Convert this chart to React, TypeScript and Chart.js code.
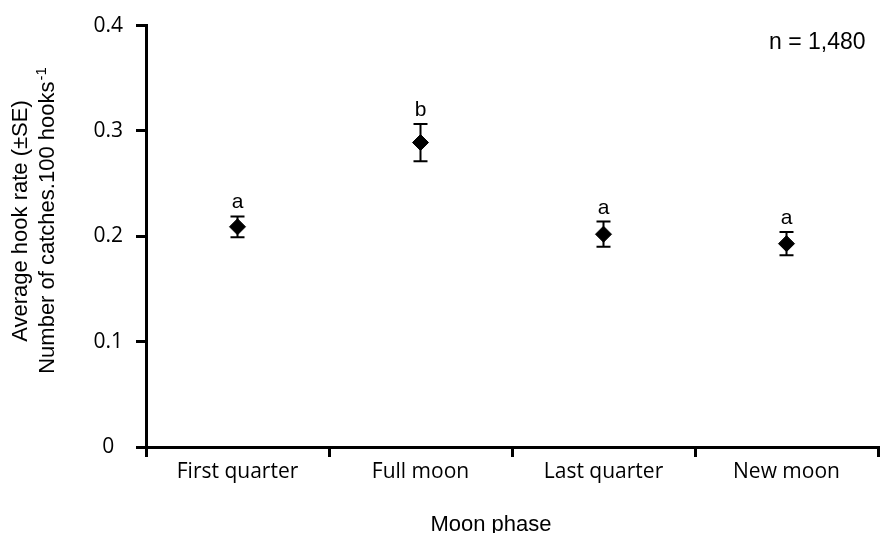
import { useEffect, useRef } from "react";
import { Chart, registerables } from "chart.js";

Chart.register(...registerables);

// ---- data ----
const categories = ["First quarter", "Full moon", "Last quarter", "New moon"];
const means = [0.209, 0.289, 0.202, 0.193];
const standardErrors = [0.0098, 0.0177, 0.012, 0.011];
const groupLetters = ["a", "b", "a", "a"];
const yTicks = [0, 0.1, 0.2, 0.3, 0.4];
const yTitleLines = ["Average hook rate (\u00b1SE)", "Number of catches.100 hooks"];
const yTitleSuperscript = "-1";
const xTitle = "Moon phase";
const sampleNote = "n = 1,480";

const SANS = "'Liberation Sans', Arial, sans-serif";
const TICK_FONT = "'Open Sans', sans-serif";

const annotationsPlugin = {
  id: "annotations",
  beforeDatasetsDraw(chart: any) {
    const { ctx, scales } = chart;
    const xs = scales.x;
    const ys = scales.y;
    ctx.save();
    ctx.strokeStyle = "#000";
    ctx.lineWidth = 2;
    means.forEach((m, i) => {
      const x = xs.getPixelForValue(i);
      const yt = ys.getPixelForValue(m + standardErrors[i]);
      const yb = ys.getPixelForValue(m - standardErrors[i]);
      ctx.beginPath();
      ctx.moveTo(x, yt);
      ctx.lineTo(x, yb);
      ctx.moveTo(x - 7, yt);
      ctx.lineTo(x + 7, yt);
      ctx.moveTo(x - 7, yb);
      ctx.lineTo(x + 7, yb);
      ctx.stroke();
    });
    ctx.restore();
  },
  afterDraw(chart: any) {
    const { ctx, scales } = chart;
    const xs = scales.x;
    const ys = scales.y;
    ctx.save();
    ctx.fillStyle = "#000";
    // group letters
    ctx.font = `21px ${SANS}`;
    ctx.textAlign = "center";
    ctx.textBaseline = "alphabetic";
    groupLetters.forEach((l, i) => {
      const x = xs.getPixelForValue(i);
      const yt = ys.getPixelForValue(means[i] + standardErrors[i]);
      ctx.fillText(l, x, yt - 8);
    });
    // sample size note
    ctx.font = `23px ${SANS}`;
    ctx.textAlign = "left";
    ctx.fillText(sampleNote, 769, 49);

    // x-axis title
    ctx.font = `22px ${SANS}`;
    ctx.textAlign = "center";
    ctx.fillText(xTitle, 491, 531);

    // y-axis title (two rotated lines)
    const centerY = 221;
    ctx.save();
    ctx.translate(27, centerY);
    ctx.rotate(-Math.PI / 2);
    ctx.textAlign = "center";
    ctx.font = `22px ${SANS}`;
    ctx.fillText(yTitleLines[0], 0, 0);
    ctx.restore();

    ctx.save();
    ctx.translate(53.5, centerY);
    ctx.rotate(-Math.PI / 2);
    ctx.textAlign = "left";
    ctx.font = `22px ${SANS}`;
    const w1 = ctx.measureText(yTitleLines[1]).width;
    ctx.font = `15px ${SANS}`;
    const w2 = ctx.measureText(yTitleSuperscript).width;
    const start = -(w1 + w2) / 2;
    ctx.font = `22px ${SANS}`;
    ctx.fillText(yTitleLines[1], start, 0);
    ctx.font = `15px ${SANS}`;
    ctx.fillText(yTitleSuperscript, start + w1 + 1, -8);
    ctx.restore();

    ctx.restore();
  },
};

export default function App() {
  const ref = useRef<HTMLCanvasElement | null>(null);

  useEffect(() => {
    if (!ref.current) return;
    const chart = new Chart(ref.current, {
      type: "line",
      data: {
        labels: categories,
        datasets: [
          {
            data: means,
            showLine: false,
            pointStyle: "rectRot",
            pointRadius: 8,
            pointHoverRadius: 8,
            backgroundColor: "#000",
            borderColor: "#000",
            borderWidth: 1,
          },
        ],
      },
      options: {
        responsive: false,
        animation: false,
        events: [],
        layout: { padding: { left: 0, right: 1, top: 24, bottom: 0 } },
        plugins: {
          legend: { display: false },
          tooltip: { enabled: false },
          title: { display: false },
        },
        scales: {
          x: {
            type: "category",
            offset: true,
            grid: {
              offset: true,
              drawOnChartArea: false,
              drawTicks: true,
              tickLength: 10,
              lineWidth: 3,
              color: "#000",
            },
            border: { display: true, width: 3, color: "#000" },
            ticks: {
              color: "#000",
              padding: 2,
              font: { family: TICK_FONT, size: 21 },
            },
            afterFit(scale: any) {
              scale.height = 86;
            },
          },
          y: {
            type: "linear",
            min: 0,
            max: 0.4,
            grid: {
              drawOnChartArea: false,
              drawTicks: true,
              tickLength: 10,
              lineWidth: 3,
              color: "#000",
            },
            border: { display: true, width: 3, color: "#000" },
            afterBuildTicks(scale: any) {
              scale.ticks = yTicks.map((v) => ({ value: v }));
            },
            ticks: {
              color: "#000",
              padding: 13,
              crossAlign: "center",
              font: { family: TICK_FONT, size: 21 },
              callback: (v: any) => String(Number(Number(v).toFixed(1))),
            },
            afterFit(scale: any) {
              scale.width = 146;
            },
          },
        },
      },
      plugins: [annotationsPlugin],
    });
    return () => chart.destroy();
  }, []);

  return (
    <div style={{ position: "fixed", left: 0, top: 0, width: 887, height: 533, background: "#fff" }}>
      <canvas ref={ref} width={887} height={533} style={{ display: "block" }} />
    </div>
  );
}
